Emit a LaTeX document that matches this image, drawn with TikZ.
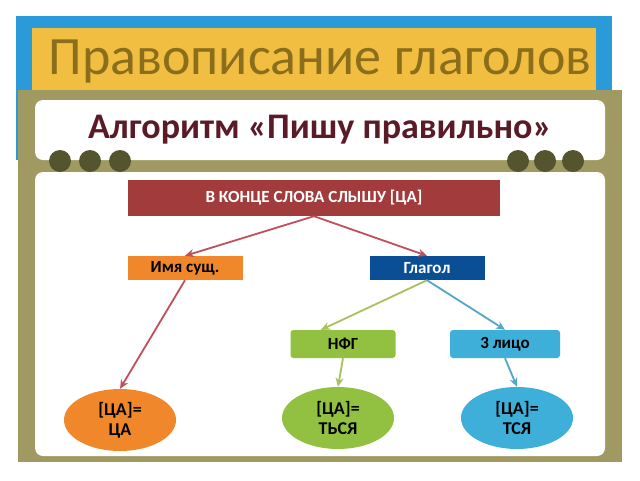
\documentclass[tikz,border=0pt]{standalone}
\usepackage{fontspec}
\setmainfont{Carlito}
\usetikzlibrary{shapes.geometric,arrows.meta}
\definecolor{frameblue}{HTML}{2A9BD8}
\definecolor{titleyellow}{HTML}{F2BE42}
\definecolor{titletext}{HTML}{8A6E1C}
\definecolor{olive}{HTML}{A09A62}
\definecolor{bead}{HTML}{54542E}
\definecolor{maroon}{HTML}{5A1A26}
\definecolor{redbox}{HTML}{A23B3C}
\definecolor{orangebox}{HTML}{F0872A}
\definecolor{bluebox}{HTML}{0A4E96}
\definecolor{greenbox}{HTML}{92C141}
\definecolor{cyanbox}{HTML}{3DAFD8}
\definecolor{redline}{HTML}{C0505A}
\definecolor{greenline}{HTML}{A8C060}
\definecolor{blueline}{HTML}{50A8C8}
\tikzset{
	box/.style={rectangle, minimum height=24pt, inner sep=1pt, font=\bfseries\fontsize{17}{18}\selectfont, text=black},
	oval/.style={ellipse, minimum width=112pt, minimum height=62pt, inner sep=0pt, align=center, font=\bfseries\fontsize{18}{20}\selectfont},
	link/.style={-{Stealth[length=9pt,width=8pt]}, line width=1.8pt}
}
\begin{document}
\begin{tikzpicture}[x=1pt,y=-1pt]
	\useasboundingbox[fill=white] (0,0) rectangle (640,480);
	\fill[frameblue] (16,16) rectangle (612,160);
	\fill[titleyellow] (32,28) rectangle (596,108);
	\node (title) at (320,62) {\fontsize{54}{58}\selectfont\color{titletext}Правописание глаголов};
	\fill[olive] (18,90) rectangle (622,462);
	\fill[white, rounded corners=8pt] (35,100) rectangle (605,160);
	\node (algo) at (320,130) {\bfseries\fontsize{36}{38}\selectfont\color{maroon}Алгоритм «Пишу правильно»};
	\fill[white, rounded corners=8pt] (35,172) rectangle (605,456);
	\fill[bead] (60,161) circle (11);
	\fill[bead] (90,161) circle (11);
	\fill[bead] (120,161) circle (11);
	\fill[bead] (518,161) circle (11);
	\fill[bead] (545,161) circle (11);
	\fill[bead] (573,161) circle (11);
	\node[box, fill=redbox, text=white, minimum width=372pt, minimum height=36pt] (top) at (314,198) {В КОНЦЕ СЛОВА СЛЫШУ [ЦА]};
	\node[box, fill=orangebox, minimum width=115pt] (noun) at (185,268) {Имя сущ.};
	\node[box, fill=bluebox, text=white, minimum width=115pt] (verb) at (427,268) {Глагол};
	\node[box, fill=greenbox, rounded corners=3pt, minimum width=105pt, minimum height=28pt] (nfg) at (343,344) {НФГ};
	\node[box, fill=cyanbox, rounded corners=3pt, minimum width=110pt, minimum height=28pt] (third) at (505,344) {3 лицо};
	\node[oval, fill=orangebox] (endca) at (120,420) {[ЦА]=\\ЦА};
	\node[oval, fill=greenbox] (endtsya) at (338,418) {[ЦА]=\\ТЬСЯ};
	\node[oval, fill=cyanbox] (endtsa) at (517,418) {[ЦА]=\\ТСЯ};
	\draw[link, redline] (top.south) -- (noun.north);
	\draw[link, redline] (top.south) -- (verb.north);
	\draw[link, redline] (noun.south) -- (endca.north);
	\draw[link, greenline] (verb.south) -- ([xshift=-22pt]nfg.north);
	\draw[link, blueline] (verb.south) -- (third.north);
	\draw[link, greenline] (nfg.south) -- (endtsya.north);
	\draw[link, blueline] (third.south) -- (endtsa.north);
\end{tikzpicture}
\end{document}
